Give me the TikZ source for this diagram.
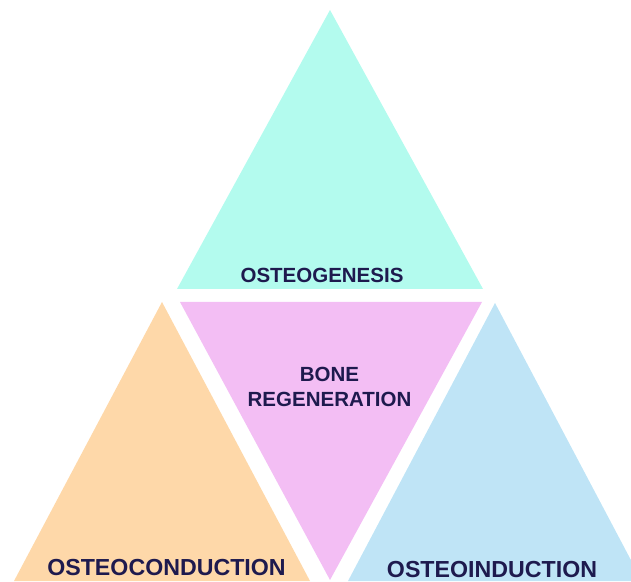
\documentclass[tikz,border=0pt]{standalone}
\usepackage{fontspec}
\setmainfont{Liberation Sans}
\definecolor{genescol}{HTML}{B3FBEE}
\definecolor{regencol}{HTML}{F3BEF4}
\definecolor{condcol}{HTML}{FED8A9}
\definecolor{indcol}{HTML}{BFE4F6}
\definecolor{textcol}{HTML}{1E1A4E}
\begin{document}
\begin{tikzpicture}[x=1pt,y=1pt,
    tlabel/.style={text=textcol,inner sep=0pt,font=\bfseries\fontsize{20.5}{25}\selectfont},
    tlabelbig/.style={tlabel,font=\bfseries\fontsize{23.2}{28}\selectfont}]
  \useasboundingbox (0,0) rectangle (631,581);
  \clip (0,0) rectangle (631,581);
  % the four triangles
  \fill[genescol] (177,292) -- (330,571) -- (483,292) -- cycle;
  \fill[regencol] (180,279) -- (482,279) -- (330,1) -- cycle;
  \fill[condcol] (14,0) -- (162,279) -- (310,0) -- cycle;
  \fill[indcol] (348,0) -- (495,278) -- (642,0) -- cycle;
  % texts
  \node[tlabel,anchor=base] (gen) at (322,298) {OSTEOGENESIS};
  \node[tlabel,align=center] (bone) at (329.5,194.5) {BONE\\REGENERATION};
  \node[tlabelbig,anchor=base] (cond) at (166.5,6) {OSTEOCONDUCTION};
  \node[tlabelbig,anchor=base] (ind) at (492,4) {OSTEOINDUCTION};
\end{tikzpicture}
\end{document}
